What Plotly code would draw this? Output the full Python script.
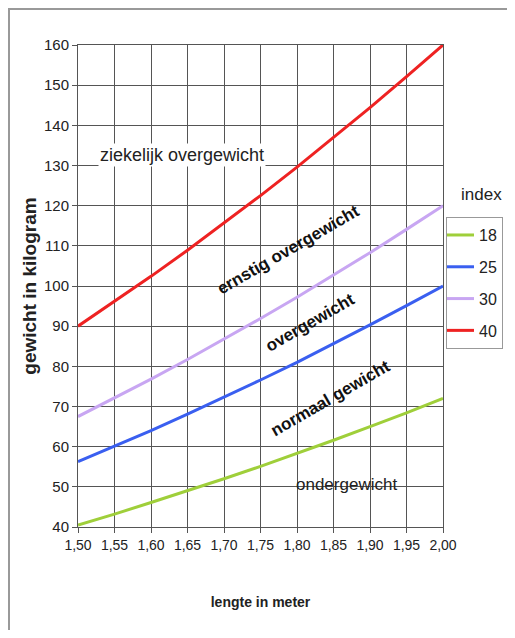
import plotly.graph_objects as go

lengte = [1.50, 1.55, 1.60, 1.65, 1.70, 1.75, 1.80, 1.85, 1.90, 1.95, 2.00]
tick_labels = ["1,50", "1,55", "1,60", "1,65", "1,70", "1,75", "1,80", "1,85", "1,90", "1,95", "2,00"]
index_names = ["18", "25", "30", "40"]
gewicht_18 = [40.5, 43.2, 46.1, 49.0, 52.0, 55.1, 58.3, 61.6, 65.0, 68.4, 72.0]
gewicht_25 = [56.3, 60.1, 64.0, 68.1, 72.3, 76.6, 81.0, 85.6, 90.3, 95.1, 100.0]
gewicht_30 = [67.5, 72.1, 76.8, 81.7, 86.7, 91.9, 97.2, 102.7, 108.3, 114.1, 120.0]
gewicht_40 = [90.0, 96.1, 102.4, 108.9, 115.6, 122.5, 129.6, 136.9, 144.4, 152.1, 160.0]
colors = ["#9fcf3a", "#3a5ff0", "#c8a6f2", "#ee2222"]

zones = ["ziekelijk overgewicht", "ernstig overgewicht", "overgewicht", "normaal gewicht", "ondergewicht"]
zone_x = [1.6425, 1.789, 1.818, 1.845, 1.868]
zone_y = [132.6, 109.0, 91.0, 72.1, 50.5]

fig = go.Figure()
for name, ys, c in zip(index_names, [gewicht_18, gewicht_25, gewicht_30, gewicht_40], colors):
    fig.add_trace(go.Scatter(x=lengte, y=ys, name=name, legendgroup=name,
                             mode="lines", line=dict(color=c, width=3)))

font_fam = "Liberation Sans, Arial"

# horizontal zone labels
fig.add_annotation(x=zone_x[0], y=zone_y[0], text=zones[0], showarrow=False,
                   font=dict(size=18, color="#222", family=font_fam), bgcolor="white")
fig.add_annotation(x=zone_x[4], y=zone_y[4], text=zones[4], showarrow=False,
                   font=dict(size=17, color="#222", family=font_fam))
# rotated zone labels
for i in (1, 2, 3):
    fig.add_annotation(x=zone_x[i], y=zone_y[i], text="<b>" + zones[i] + "</b>", showarrow=False,
                       textangle=-30, font=dict(size=17, color="#111", family=font_fam))

# legend title
fig.add_annotation(x=1.105, y=0.689, xref="paper", yref="paper", text="index", showarrow=False,
                   xanchor="center", yanchor="middle",
                   font=dict(size=17, color="#222", family=font_fam))

fig.update_layout(
    width=499, height=622,
    margin=dict(l=70, r=64, t=37, b=103, autoexpand=False),
    paper_bgcolor="white", plot_bgcolor="white",
    font=dict(family=font_fam, size=14, color="#222"),
    showlegend=True,
    legend=dict(x=1.0082, y=0.643, xanchor="left", yanchor="top",
                bordercolor="#999", borderwidth=1, font=dict(size=16),
                itemwidth=30, tracegroupgap=8, indentation=-8),
    shapes=[dict(type="rect", xref="paper", yref="paper",
                 x0=-69 / 365, x1=1.5, y0=-0.5, y1=1 + 36 / 482,
                 line=dict(color="#999", width=2))],
)
fig.update_xaxes(range=[1.5, 2.0], tickvals=lengte, ticktext=tick_labels,
                 showgrid=True, gridcolor="#555", gridwidth=1,
                 ticks="outside", ticklen=5, tickcolor="#555",
                 showline=True, linecolor="#555", mirror=True,
                 tickfont=dict(size=14), zeroline=False,
                 title=dict(text="<b>lengte in meter</b>", font=dict(size=14), standoff=45))
fig.update_yaxes(range=[40, 160], dtick=10,
                 showgrid=True, gridcolor="#555", gridwidth=1,
                 ticks="outside", ticklen=5, tickcolor="#555",
                 showline=True, linecolor="#555", mirror=True,
                 tickfont=dict(size=15), zeroline=False,
                 title=dict(text="<b>gewicht in kilogram</b>", font=dict(size=19), standoff=2))

fig.write_html("out.html")
